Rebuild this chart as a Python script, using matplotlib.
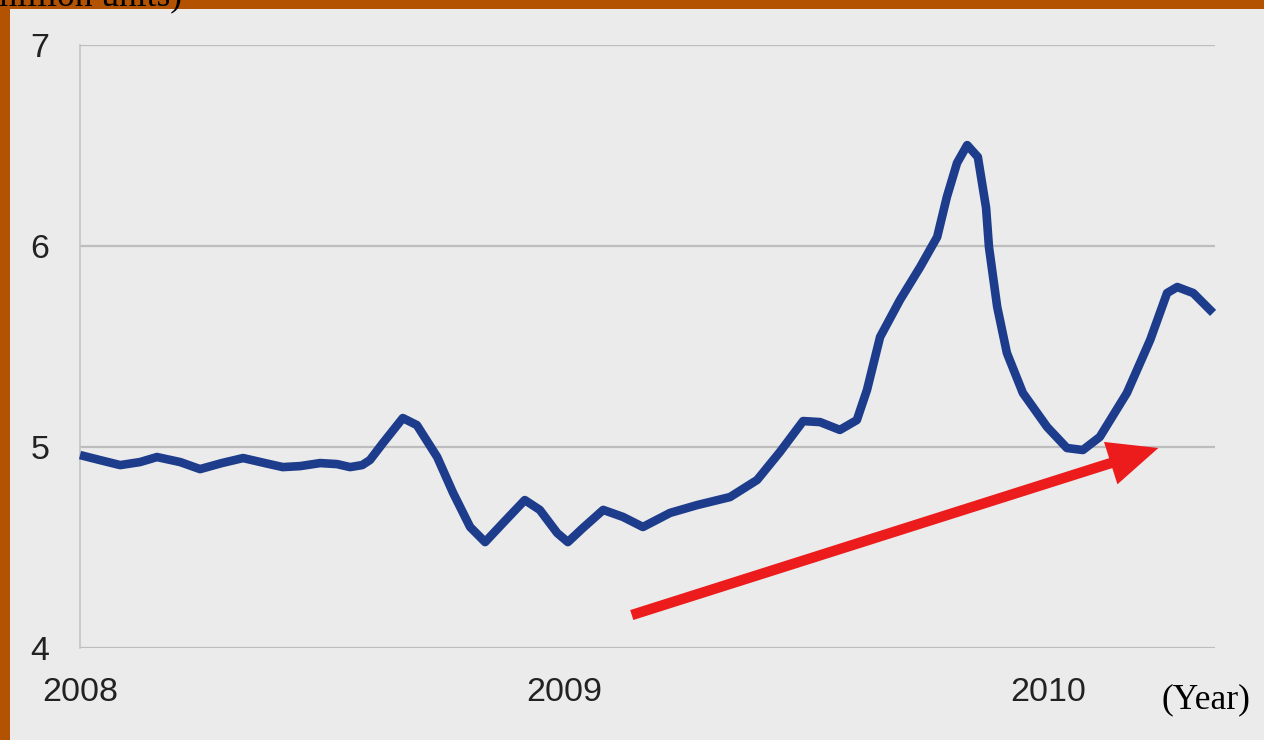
import matplotlib
matplotlib.use("Agg")
import matplotlib.pyplot as plt
from matplotlib.patches import Rectangle, FancyArrowPatch, ArrowStyle

# Sales volume readings (million units), positioned by fractional year
year_pos = [
    2008.000, 2008.041, 2008.083, 2008.124, 2008.159, 2008.207, 2008.248,
    2008.293, 2008.337, 2008.382, 2008.419, 2008.455, 2008.496, 2008.531,
    2008.558, 2008.583, 2008.599, 2008.626, 2008.667, 2008.696, 2008.738,
    2008.771, 2008.806, 2008.837, 2008.874, 2008.919, 2008.950, 2008.986,
    2009.008, 2009.039, 2009.081, 2009.122, 2009.163, 2009.219, 2009.275,
    2009.343, 2009.399, 2009.446, 2009.494, 2009.529, 2009.570, 2009.605,
    2009.626, 2009.653, 2009.694, 2009.736, 2009.771, 2009.791, 2009.812,
    2009.833, 2009.855, 2009.872, 2009.878, 2009.895, 2009.915, 2009.948,
    2009.998, 2010.039, 2010.072, 2010.107, 2010.163, 2010.211, 2010.246,
    2010.267, 2010.300, 2010.341,
]
units = [
    4.960, 4.935, 4.910, 4.925, 4.950, 4.925, 4.890,
    4.920, 4.945, 4.920, 4.900, 4.905, 4.920, 4.915,
    4.900, 4.910, 4.935, 5.020, 5.144, 5.109, 4.950,
    4.771, 4.602, 4.527, 4.622, 4.736, 4.687, 4.572,
    4.527, 4.597, 4.687, 4.652, 4.602, 4.672, 4.711,
    4.751, 4.836, 4.975, 5.129, 5.124, 5.085, 5.134,
    5.284, 5.547, 5.731, 5.896, 6.045, 6.244, 6.413,
    6.502, 6.443, 6.190, 5.995, 5.697, 5.468, 5.269,
    5.100, 4.995, 4.985, 5.050, 5.269, 5.532, 5.766,
    5.796, 5.766, 5.667,
]

x_ticks = [2008, 2009, 2010]
x_tick_labels = ["2008", "2009", "2010"]
y_ticks = [4, 5, 6, 7]
y_tick_labels = ["4", "5", "6", "7"]

# Trend arrow endpoints (year, value)
trend_start = (2009.140, 4.164)
trend_end = (2010.228, 4.995)

W, H = 1264, 740
fig = plt.figure(figsize=(W / 100, H / 100), dpi=100)
fig.patch.set_facecolor("#b35200")

# light grey chart panel behind everything
panel = Rectangle((10 / W, 0), 1 - 10 / W, 1 - 9 / H, transform=fig.transFigure,
                  facecolor="#ebebeb", edgecolor="none", zorder=-10)
fig.add_artist(panel)

ax = fig.add_axes([80 / W, 1 - 648 / H, (1215 - 80) / W, (648 - 45) / H])
ax.set_zorder(1)
ax.set_facecolor("#ebebeb")

ax.plot(year_pos, units, color="#1d3c8c", lw=6.2, solid_joinstyle="round",
        solid_capstyle="butt", zorder=3, clip_on=False)

ax.set_xlim(2008.0, 2010.345)
ax.set_ylim(4, 7)

ax.set_yticks(y_ticks)
ax.set_yticklabels(y_tick_labels)
ax.set_xticks(x_ticks)
ax.set_xticklabels(x_tick_labels)

for lab in ax.get_xticklabels() + ax.get_yticklabels():
    lab.set_fontfamily("Liberation Sans")
    lab.set_fontsize(24.5)
    lab.set_color("#222222")

ax.tick_params(axis="both", length=0)
ax.tick_params(axis="y", pad=22)
ax.tick_params(axis="x", pad=21)

ax.grid(axis="y", color="#bdbdbd", lw=1.6, zorder=1)
ax.grid(axis="x", visible=False)
ax.set_axisbelow(True)
for side in ("top", "right", "bottom"):
    ax.spines[side].set_visible(False)
ax.spines["left"].set_color("#c4c4c4")
ax.spines["left"].set_linewidth(1.2)

# red trend arrow
arrow = FancyArrowPatch(
    trend_start, trend_end,
    arrowstyle=ArrowStyle("Simple", head_length=36, head_width=32, tail_width=7.5),
    mutation_scale=1, color="#ec1c1c", lw=0, zorder=4,
    shrinkA=0, shrinkB=0,
)
ax.add_patch(arrow)

# axis captions
fig.text(182 / W, 1 - 5 / H, "(million units)", fontfamily="Liberation Serif",
         fontsize=25.6, color="black", ha="right", va="baseline", zorder=5)
fig.text(1250 / W, 1 - 708 / H, "(Year)", fontfamily="Liberation Serif",
         fontsize=25.6, color="black", ha="right", va="baseline", zorder=5)

fig.savefig("out.png", dpi=100, facecolor=fig.get_facecolor())
